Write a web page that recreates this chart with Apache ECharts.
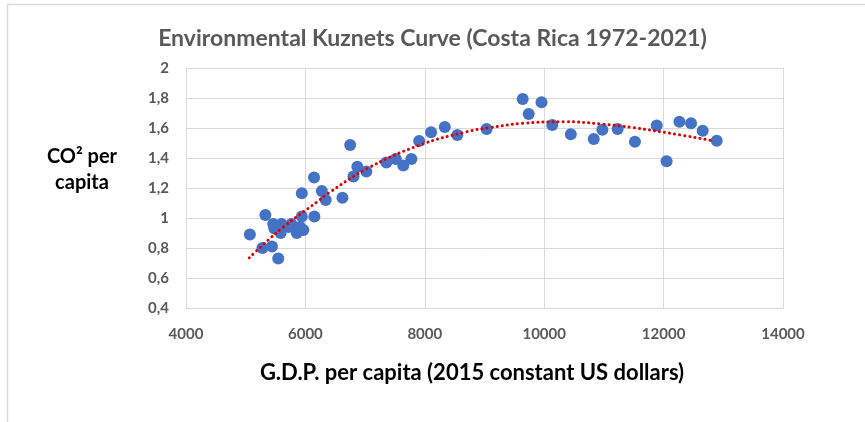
<!DOCTYPE html>
<html>
<head>
<meta charset="utf-8">
<script src="https://cdn.jsdelivr.net/npm/echarts@6/dist/echarts.min.js"></script>
<style>
html,body{margin:0;padding:0;background:#fff;}
#chart{width:865px;height:422px;}
</style>
</head>
<body>
<div id="chart"></div>
<script>
// GDP per capita (2015 constant US$) and CO2 per capita, Costa Rica 1972-2021
const gdp = [5070, 5330, 5280, 5440, 5545, 5460, 5480, 5600, 5585, 5715, 5765, 5855, 5910, 5965, 5940, 5940, 6145, 6150, 6275, 6340, 6620, 6750, 6805, 6870, 7020, 7355, 7515, 7640, 7775, 7905, 8105, 8335, 8545, 9035, 9640, 9740, 9955, 10135, 10445, 10830, 10975, 11230, 11520, 11885, 12050, 12265, 12460, 12655, 12890];
const co2 = [0.89, 1.02, 0.80, 0.81, 0.73, 0.96, 0.93, 0.96, 0.90, 0.94, 0.96, 0.90, 0.94, 0.92, 1.01, 1.165, 1.27, 1.01, 1.18, 1.12, 1.135, 1.487, 1.276, 1.342, 1.31, 1.37, 1.393, 1.35, 1.393, 1.513, 1.571, 1.607, 1.553, 1.593, 1.793, 1.693, 1.771, 1.62, 1.558, 1.527, 1.589, 1.593, 1.509, 1.616, 1.378, 1.642, 1.631, 1.582, 1.515];
// Polynomial trend line
const trendX = [5060, 5390, 5620, 5870, 6200, 6380, 7040, 7920, 8700, 9080, 9630, 10350, 10950, 11500, 12050, 12830];
const trendY = [0.735, 0.858, 0.936, 1.013, 1.109, 1.164, 1.331, 1.487, 1.575, 1.602, 1.631, 1.642, 1.627, 1.602, 1.569, 1.515];
const titleText = 'Environmental Kuznets Curve (Costa Rica 1972-2021)';
const xName = 'G.D.P. per capita (2015 constant US dollars)';
const yName = 'CO\u00B2 per\ncapita';

const chart = echarts.init(document.getElementById('chart'), null, {renderer: 'canvas'});
const font = 'Lato, "Open Sans", sans-serif';
chart.setOption({
  animation: false,
  backgroundColor: '#fff',
  graphic: [{
    type: 'rect', left: 5, top: 2, silent: true,
    shape: {x: 0, y: 0, width: 880, height: 419},
    style: {fill: 'none', stroke: '#d9d9d9', lineWidth: 1.5}
  }, {
    type: 'text', x: 82, y: 170, silent: true,
    style: {text: yName, fontFamily: font, fontSize: 20, fontWeight: 'bold', fill: '#000',
      align: 'center', verticalAlign: 'middle', lineHeight: 26}
  }, {
    type: 'text', x: 472, y: 373, silent: true,
    style: {text: xName, fontFamily: font, fontSize: 22, fontWeight: 'bold', fill: '#000',
      align: 'center', verticalAlign: 'middle'}
  }],
  title: {
    text: titleText, left: 'center', top: 22,
    textStyle: {fontFamily: font, fontSize: 23, fontWeight: 'bold', color: '#595959'}
  },
  grid: {left: 186, right: 82, top: 68, bottom: 114, containLabel: false},
  xAxis: {
    type: 'value', min: 4000, max: 14000, interval: 2000,
    axisLine: {show: true, lineStyle: {color: '#d9d9d9', width: 1}},
    axisTick: {show: false},
    axisLabel: {fontFamily: font, fontSize: 15, fontWeight: 'bold', color: '#595959', margin: 19,
      formatter: v => String(v)},
    splitLine: {show: true, lineStyle: {color: '#d9d9d9', width: 1}}
  },
  yAxis: {
    type: 'value', min: 0.4, max: 2, interval: 0.2,
    axisLine: {show: false},
    axisTick: {show: false},
    axisLabel: {fontFamily: font, fontSize: 15, fontWeight: 'bold', color: '#595959', margin: 17,
      formatter: v => String(Math.round(v * 10) / 10).replace('.', ',')},
    splitLine: {show: true, lineStyle: {color: '#d9d9d9', width: 1}}
  },
  series: [{
    type: 'scatter',
    data: gdp.map((g, i) => [g, co2[i]]),
    symbol: 'circle', symbolSize: 12,
    itemStyle: {color: '#4472C4', opacity: 1},
    z: 2
  }, {
    type: 'line',
    data: trendX.map((x, i) => [x, trendY[i]]),
    smooth: 0.4, showSymbol: false, symbol: 'none',
    lineStyle: {color: '#e00000', width: 3, type: [0.1, 5], cap: 'round'},
    z: 3
  }]
});
</script>
</body>
</html>
